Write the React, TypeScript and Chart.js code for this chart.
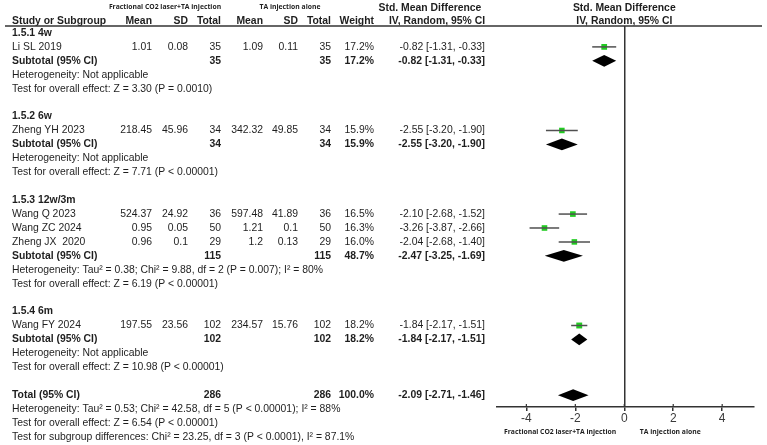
import React, { useEffect, useRef } from 'react';
import { Chart, registerables } from 'chart.js';

Chart.register(...registerables);

const WIDTH = 767;
const HEIGHT = 445;

// Subgroups
const groupTitles = ['1.5.1 4w', '1.5.2 6w', '1.5.3 12w/3m', '1.5.4 6m'];
const groupExpTotal = [35, 34, 115, 102];
const groupCtlTotal = [35, 34, 115, 102];
const groupWeight = [17.2, 15.9, 48.7, 18.2];
const groupSMD = [-0.82, -2.55, -2.47, -1.84];
const groupLower = [-1.31, -3.2, -3.25, -2.17];
const groupUpper = [-0.33, -1.9, -1.69, -1.51];
const groupHeterogeneity = [
  'Heterogeneity: Not applicable',
  'Heterogeneity: Not applicable',
  'Heterogeneity: Tau\u00B2 = 0.38; Chi\u00B2 = 9.88, df = 2 (P = 0.007); I\u00B2 = 80%',
  'Heterogeneity: Not applicable',
];
const groupEffect = [
  'Test for overall effect: Z = 3.30 (P = 0.0010)',
  'Test for overall effect: Z = 7.71 (P < 0.00001)',
  'Test for overall effect: Z = 6.19 (P < 0.00001)',
  'Test for overall effect: Z = 10.98 (P < 0.00001)',
];

// Individual studies
const studyNames = ['Li SL 2019', 'Zheng YH 2023', 'Wang Q 2023', 'Wang ZC 2024', 'Zheng JX  2020', 'Wang FY 2024'];
const studyGroup = [0, 1, 2, 2, 2, 3];
const expMean = ['1.01', '218.45', '524.37', '0.95', '0.96', '197.55'];
const expSD = ['0.08', '45.96', '24.92', '0.05', '0.1', '23.56'];
const expTotal = [35, 34, 36, 50, 29, 102];
const ctlMean = ['1.09', '342.32', '597.48', '1.21', '1.2', '234.57'];
const ctlSD = ['0.11', '49.85', '41.89', '0.1', '0.13', '15.76'];
const ctlTotal = [35, 34, 36, 50, 29, 102];
const studyWeight = [17.2, 15.9, 16.5, 16.3, 16.0, 18.2];
const studySMD = [-0.82, -2.55, -2.1, -3.26, -2.04, -1.84];
const studyLower = [-1.31, -3.2, -2.68, -3.87, -2.68, -2.17];
const studyUpper = [-0.33, -1.9, -1.52, -2.66, -1.4, -1.51];

// Overall
const totalExp = 286;
const totalCtl = 286;
const totalWeight = 100.0;
const totalSMD = -2.09;
const totalLower = -2.71;
const totalUpper = -1.46;
const totalNotes = [
  'Heterogeneity: Tau\u00B2 = 0.53; Chi\u00B2 = 42.58, df = 5 (P < 0.00001); I\u00B2 = 88%',
  'Test for overall effect: Z = 6.54 (P < 0.00001)',
  'Test for subgroup differences: Chi\u00B2 = 23.25, df = 3 (P < 0.0001), I\u00B2 = 87.1%',
];

const xTickValues = [-4, -2, 0, 2, 4];
const expLabel = 'Fractional CO2 laser+TA injection';
const ctlLabel = 'TA injection alone';

// Row layout: title, studies, subtotal, heterogeneity, effect, blank
const groupRow: number[] = [];
const subtotalRow: number[] = [];
const studyRow: number[] = [];
let cursor = 0;
groupTitles.forEach((_, g) => {
  groupRow[g] = cursor++;
  studyGroup.forEach((sg, s) => {
    if (sg === g) studyRow[s] = cursor++;
  });
  subtotalRow[g] = cursor++;
  cursor += 3;
});
const totalRow = cursor;

const fmtCI = (m: number, lo: number, hi: number) =>
  `${m.toFixed(2)} [${lo.toFixed(2)}, ${hi.toFixed(2)}]`;

const FONT = '"Liberation Sans", Arial, sans-serif';
const SMALL_FONT = '"Open Sans", sans-serif';
const TEXT = '#1e1e1e';
const LINE = '#333333';

// Column anchors (right-aligned numeric columns)
const COL = {
  left: 12,
  expMean: 152,
  expSD: 188,
  expTotal: 221,
  ctlMean: 263,
  ctlSD: 298,
  ctlTotal: 331,
  weight: 374,
  ci: 485,
};

const tablePlugin = {
  id: 'forestTable',
  afterDatasetsDraw(chart: any) {
    const { ctx } = chart;
    const xs = chart.scales.x;
    const ys = chart.scales.y;
    const yOf = (r: number) => ys.getPixelForValue(r);

    // pooled estimates as diamonds
    const diamond = (row: number, m: number, lo: number, hi: number, half: number) => {
      const y = yOf(row);
      const hh = Math.abs(yOf(row + half) - y);
      ctx.save();
      ctx.fillStyle = '#000';
      ctx.beginPath();
      ctx.moveTo(xs.getPixelForValue(lo), y);
      ctx.lineTo(xs.getPixelForValue(m), y - hh);
      ctx.lineTo(xs.getPixelForValue(hi), y);
      ctx.lineTo(xs.getPixelForValue(m), y + hh);
      ctx.closePath();
      ctx.fill();
      ctx.restore();
    };
    groupTitles.forEach((_, g) =>
      diamond(subtotalRow[g], groupSMD[g], groupLower[g], groupUpper[g], 0.42)
    );
    diamond(totalRow, totalSMD, totalLower, totalUpper, 0.42);

    // tick marks crossing the axis line
    const axisY = chart.chartArea.bottom;
    ctx.save();
    ctx.strokeStyle = LINE;
    ctx.lineWidth = 1.2;
    xTickValues.forEach((v) => {
      const px = xs.getPixelForValue(v);
      ctx.beginPath();
      ctx.moveTo(px, axisY - 3);
      ctx.lineTo(px, axisY);
      ctx.stroke();
    });
    ctx.restore();
  },
  afterDraw(chart: any) {
    const { ctx } = chart;
    const xs = chart.scales.x;
    const ys = chart.scales.y;
    const yOf = (r: number) => ys.getPixelForValue(r);
    const size = 10.4;

    const put = (text: string, x: number, y: number, align: CanvasTextAlign, bold = false, font = FONT, px = size) => {
      ctx.font = `${bold ? 'bold ' : ''}${px}px ${font}`;
      ctx.textAlign = align;
      ctx.fillText(text, x, y);
    };

    ctx.save();
    ctx.fillStyle = TEXT;
    ctx.textBaseline = 'middle';

    // header
    const hTop = yOf(-1.85);
    const hRow = yOf(-0.82);
    put(expLabel, 165, hTop, 'center', true, SMALL_FONT, 6.8);
    put(ctlLabel, 290, hTop, 'center', true, SMALL_FONT, 6.8);
    put('Std. Mean Difference', 430, hTop + 0.5, 'center', true);
    put('Std. Mean Difference', xs.getPixelForValue(0), hTop + 0.5, 'center', true);
    put('Study or Subgroup', COL.left, hRow, 'left', true);
    put('Mean', COL.expMean, hRow, 'right', true);
    put('SD', COL.expSD, hRow, 'right', true);
    put('Total', COL.expTotal, hRow, 'right', true);
    put('Mean', COL.ctlMean, hRow, 'right', true);
    put('SD', COL.ctlSD, hRow, 'right', true);
    put('Total', COL.ctlTotal, hRow, 'right', true);
    put('Weight', COL.weight, hRow, 'right', true);
    put('IV, Random, 95% CI', 437, hRow, 'center', true);
    put('IV, Random, 95% CI', xs.getPixelForValue(0), hRow, 'center', true);

    // header rule
    ctx.strokeStyle = LINE;
    ctx.lineWidth = 1.5;
    ctx.beginPath();
    ctx.moveTo(5, chart.chartArea.top);
    ctx.lineTo(762, chart.chartArea.top);
    ctx.stroke();

    groupTitles.forEach((title, g) => {
      put(title, COL.left, yOf(groupRow[g]), 'left', true);
      const sr = subtotalRow[g];
      const y = yOf(sr);
      put('Subtotal (95% CI)', COL.left, y, 'left', true);
      put(String(groupExpTotal[g]), COL.expTotal, y, 'right', true);
      put(String(groupCtlTotal[g]), COL.ctlTotal, y, 'right', true);
      put(`${groupWeight[g].toFixed(1)}%`, COL.weight, y, 'right', true);
      put(fmtCI(groupSMD[g], groupLower[g], groupUpper[g]), COL.ci, y, 'right', true);
      put(groupHeterogeneity[g], COL.left, yOf(sr + 1), 'left');
      put(groupEffect[g], COL.left, yOf(sr + 2), 'left');
    });

    studyNames.forEach((name, s) => {
      const y = yOf(studyRow[s]);
      put(name, COL.left, y, 'left');
      put(expMean[s], COL.expMean, y, 'right');
      put(expSD[s], COL.expSD, y, 'right');
      put(String(expTotal[s]), COL.expTotal, y, 'right');
      put(ctlMean[s], COL.ctlMean, y, 'right');
      put(ctlSD[s], COL.ctlSD, y, 'right');
      put(String(ctlTotal[s]), COL.ctlTotal, y, 'right');
      put(`${studyWeight[s].toFixed(1)}%`, COL.weight, y, 'right');
      put(fmtCI(studySMD[s], studyLower[s], studyUpper[s]), COL.ci, y, 'right');
    });

    const ty = yOf(totalRow);
    put('Total (95% CI)', COL.left, ty, 'left', true);
    put(String(totalExp), COL.expTotal, ty, 'right', true);
    put(String(totalCtl), COL.ctlTotal, ty, 'right', true);
    put(`${totalWeight.toFixed(1)}%`, COL.weight, ty, 'right', true);
    put(fmtCI(totalSMD, totalLower, totalUpper), COL.ci, ty, 'right', true);
    totalNotes.forEach((t, i) => put(t, COL.left, yOf(totalRow + 1 + i), 'left'));

    // direction labels under the axis
    const by = chart.chartArea.bottom + 25;
    put(expLabel, xs.getPixelForValue(-2.62), by, 'center', true, SMALL_FONT, 6.8);
    put(ctlLabel, xs.getPixelForValue(1.88), by, 'center', true, SMALL_FONT, 6.8);
    ctx.restore();
  },
};

export default function App() {
  const canvasRef = useRef<HTMLCanvasElement | null>(null);

  useEffect(() => {
    const canvas = canvasRef.current;
    if (!canvas) return;

    const ciSets = studyNames.map((name, s) => ({
      type: 'line' as const,
      label: name,
      data: [
        { x: studyLower[s], y: studyRow[s] },
        { x: studyUpper[s], y: studyRow[s] },
      ],
      borderColor: '#505050',
      borderWidth: 1.5,
      pointRadius: 0,
      fill: false,
    }));

    const chart = new Chart(canvas, {
      type: 'scatter',
      data: {
        datasets: [
          ...ciSets,
          {
            type: 'scatter' as const,
            label: 'SMD',
            data: studyNames.map((_, s) => ({ x: studySMD[s], y: studyRow[s] })),
            pointStyle: 'rect',
            pointRadius: studyWeight.map((w) => 0.98 * Math.sqrt(w)),
            backgroundColor: '#22cc22',
            borderColor: '#22cc22',
            borderWidth: 0,
          },
        ],
      } as any,
      options: {
        animation: false,
        responsive: false,
        events: [],
        layout: { padding: { left: 497, right: 13, top: 26, bottom: 0 } },
        plugins: { legend: { display: false }, tooltip: { enabled: false } },
        scales: {
          x: {
            type: 'linear',
            min: -5.2,
            max: 5.3,
            afterFit: (scale: any) => {
              scale.height = 38;
            },
            afterBuildTicks: (scale: any) => {
              scale.ticks = xTickValues.map((v) => ({ value: v }));
            },
            ticks: {
              includeBounds: false,
              padding: 0,
              color: '#3a3a3a',
              font: { family: '"Liberation Sans", Arial, sans-serif', size: 12 },
              callback: (v: any) => String(v),
            },
            grid: {
              drawOnChartArea: true,
              color: (c: any) => (c.tick && c.tick.value === 0 ? LINE : 'rgba(0,0,0,0)'),
              lineWidth: 1.5,
              tickColor: LINE,
              tickLength: 4,
            },
            border: { display: true, color: LINE, width: 1.5 },
          },
          y: {
            type: 'linear',
            display: false,
            reverse: true,
            min: -0.5,
            max: 26.85,
          },
        },
      } as any,
      plugins: [tablePlugin],
    });

    return () => chart.destroy();
  }, []);

  return (
    <div style={{ position: 'fixed', left: 0, top: 0, width: WIDTH, height: HEIGHT, background: '#fff' }}>
      <canvas ref={canvasRef} width={WIDTH} height={HEIGHT} style={{ display: 'block', width: WIDTH, height: HEIGHT }} />
    </div>
  );
}
